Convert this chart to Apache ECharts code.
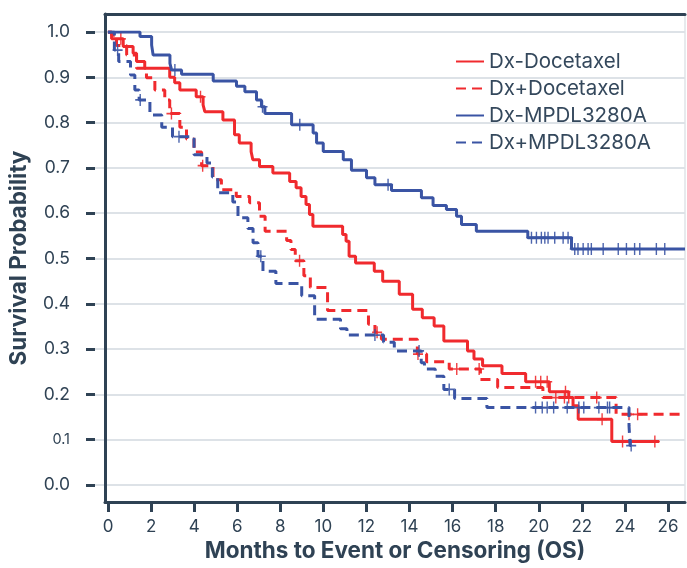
<!DOCTYPE html>
<html>
<head>
<meta charset="utf-8">
<script src="https://cdn.jsdelivr.net/npm/echarts@6/dist/echarts.min.js"></script>
<style>
html,body{margin:0;padding:0;background:#fff;}
#chart{width:687px;height:568px;}
</style>
</head>
<body>
<div id="chart"></div>
<script>
// ---- data (months, survival probability) ----
const seriesNames = ['Dx-Docetaxel', 'Dx+Docetaxel', 'Dx-MPDL3280A', 'Dx+MPDL3280A'];

const dxMinusDocT = [0, 0.17, 0.71, 1.17, 1.33, 1.71, 2.87, 3.1, 3.34, 4.1, 4.42, 4.5, 5.34, 5.88, 6.1, 6.65, 6.73, 7.04, 7.66, 8.44, 8.74, 8.97, 9.2, 9.36, 9.52, 10.9, 11.06, 11.2, 11.5, 12.37, 12.76, 13.53, 14.15, 14.6, 15.15, 15.6, 16.7, 17.0, 17.4, 18.3, 19.4, 20.5, 21.4, 21.6, 21.84, 23.4, 25.6];
const dxMinusDocS = [1.0, 0.985, 0.968, 0.953, 0.935, 0.92, 0.90, 0.888, 0.872, 0.857, 0.839, 0.824, 0.806, 0.773, 0.755, 0.736, 0.718, 0.703, 0.689, 0.670, 0.656, 0.637, 0.619, 0.597, 0.571, 0.553, 0.538, 0.505, 0.49, 0.472, 0.45, 0.421, 0.388, 0.369, 0.351, 0.318, 0.296, 0.278, 0.263, 0.246, 0.228, 0.206, 0.193, 0.175, 0.145, 0.096, 0.096];
const dxMinusDocCens = [0.6, 4.3, 19.86, 20.1, 20.4, 21.25, 22.95, 23.9, 25.4];

const dxPlusDocT = [0, 0.17, 0.4, 0.87, 1.33, 1.79, 2.18, 2.64, 2.87, 3.34, 3.65, 4.0, 4.35, 4.88, 5.27, 5.96, 6.58, 7.04, 7.3, 8.3, 8.5, 8.7, 9.1, 9.4, 10.2, 12.1, 12.4, 12.7, 14.37, 14.8, 15.85, 17.3, 18.1, 20.2, 23.6, 26.8];
const dxPlusDocS = [1.0, 0.993, 0.97, 0.949, 0.92, 0.899, 0.872, 0.85, 0.82, 0.79, 0.764, 0.735, 0.705, 0.674, 0.652, 0.637, 0.623, 0.593, 0.56, 0.54, 0.52, 0.495, 0.462, 0.436, 0.385, 0.355, 0.337, 0.322, 0.289, 0.272, 0.256, 0.233, 0.215, 0.193, 0.156, 0.156];
const dxPlusDocCens = [2.95, 4.4, 8.9, 12.5, 14.4, 16.2, 17.24, 20.8, 21.2, 21.4, 22.7, 24.2, 24.6];

const dxMinusMpdlT = [0, 1.49, 2.03, 2.1, 2.88, 2.96, 3.42, 4.89, 5.97, 6.36, 6.9, 7.13, 7.29, 8.53, 9.53, 9.69, 10.0, 10.93, 11.31, 12.01, 12.4, 13.17, 14.56, 15.1, 15.72, 16.19, 16.42, 17.11, 19.5, 21.53, 26.8];
const dxMinusMpdlS = [1.0, 0.99, 0.971, 0.949, 0.931, 0.916, 0.907, 0.892, 0.880, 0.868, 0.850, 0.835, 0.82, 0.795, 0.777, 0.755, 0.736, 0.718, 0.695, 0.678, 0.663, 0.65, 0.634, 0.617, 0.608, 0.593, 0.575, 0.56, 0.546, 0.521, 0.521];
const dxMinusMpdlCens = [3.11, 7.18, 8.91, 13.01, 19.67, 19.9, 20.13, 20.29, 20.44, 20.75, 21.14, 21.37, 21.68, 21.83, 22.07, 22.3, 22.45, 23.0, 23.7, 24.08, 24.46, 24.7, 25.47, 25.86];

const dxPlusMpdlT = [0, 0.3, 0.5, 1.05, 1.25, 1.45, 1.95, 2.5, 3.0, 4.0, 4.6, 4.85, 5.1, 5.8, 6.04, 6.5, 6.74, 6.97, 7.2, 7.8, 9.0, 9.6, 10.8, 11.1, 12.8, 13.3, 14.55, 14.7, 15.2, 15.6, 16.1, 17.6, 24.2, 24.25, 24.3];
const dxPlusMpdlS = [1.0, 0.96, 0.935, 0.905, 0.872, 0.85, 0.817, 0.79, 0.769, 0.729, 0.711, 0.68, 0.645, 0.625, 0.59, 0.566, 0.535, 0.505, 0.472, 0.445, 0.418, 0.366, 0.345, 0.331, 0.315, 0.296, 0.27, 0.256, 0.24, 0.211, 0.191, 0.171, 0.131, 0.087, 0.087];
const dxPlusMpdlCens = [0.45, 1.5, 3.3, 7.1, 12.4, 14.45, 15.85, 19.86, 20.17, 20.4, 20.7, 21.33, 21.87, 22.1, 22.8, 23.2, 23.3, 24.3];

const xTickValues = [0, 2, 4, 6, 8, 10, 12, 14, 16, 18, 20, 22, 24, 26];
const yTickValues = [0.0, 0.1, 0.2, 0.3, 0.4, 0.5, 0.6, 0.7, 0.8, 0.9, 1.0];

// ---- styling ----
const RED = '#f02a2e';
const BLUE = '#3a54a4';
const AXIS = '#2f4254';
const TXT = '#2f4254';
const FONT = 'Inter';
const DASH = [10, 6];

function zip(t, s) { return t.map((v, i) => [v, s[i]]); }
function survAt(t, T, S) {
  let v = S[0];
  for (let i = 0; i < T.length; i++) { if (T[i] <= t) v = S[i]; else break; }
  return v;
}
function censPts(c, T, S) { return c.map(t => [t, survAt(t, T, S)]); }

const groups = [
  { name: seriesNames[0], T: dxMinusDocT, S: dxMinusDocS, C: dxMinusDocCens, color: RED, dash: 'solid' },
  { name: seriesNames[1], T: dxPlusDocT, S: dxPlusDocS, C: dxPlusDocCens, color: RED, dash: DASH },
  { name: seriesNames[2], T: dxMinusMpdlT, S: dxMinusMpdlS, C: dxMinusMpdlCens, color: BLUE, dash: 'solid' },
  { name: seriesNames[3], T: dxPlusMpdlT, S: dxPlusMpdlS, C: dxPlusMpdlCens, color: BLUE, dash: DASH }
];

const plus = 'path://M4.3,0H5.7V10H4.3Z M0,4.3H10V5.7H0Z';

const series = [];
groups.forEach((g, i) => {
  series.push({
    name: g.name, type: 'line', step: 'end', symbol: 'none',
    xAxisIndex: 1, yAxisIndex: 1,
    data: zip(g.T, g.S),
    lineStyle: { color: g.color, width: 3, type: g.dash },
    itemStyle: { color: g.color },
    z: 3 + i, silent: true, animation: false
  });
  series.push({
    name: 'c' + i, type: 'scatter', symbol: plus, symbolSize: [10, 12],
    xAxisIndex: 1, yAxisIndex: 1,
    data: censPts(g.C, g.T, g.S),
    itemStyle: { color: g.color, opacity: 0.9 },
    z: 3 + i, silent: true, animation: false
  });
});

const chart = echarts.init(document.getElementById('chart'), null, { renderer: 'canvas' });
chart.setOption({
  animation: false,
  textStyle: { fontFamily: FONT, color: TXT },
  grid: [
    { left: 95, right: 2, top: 14, bottom: 65, show: true, borderColor: '#cfd5db', borderWidth: 1 },
    { left: 95, right: 2, top: 32, bottom: 83 },
    { left: 108, right: 19, top: 14, bottom: 65 }
  ],
  xAxis: [
    { gridIndex: 0, type: 'value', min: -0.6, max: 26.8, position: 'bottom',
      axisLine: { show: true, onZero: false, lineStyle: { color: AXIS, width: 3 } },
      axisTick: { show: false }, axisLabel: { show: false }, splitLine: { show: false },
      name: 'Months to Event or Censoring (OS)', nameLocation: 'middle', nameGap: 38,
      nameTextStyle: { fontFamily: FONT, fontWeight: 'bold', fontSize: 22.5, color: TXT } },
    { gridIndex: 1, type: 'value', min: -0.6, max: 26.8, show: false },
    { gridIndex: 2, type: 'value', min: 0, max: 26, interval: 2, position: 'bottom',
      axisLine: { show: false, onZero: false },
      axisTick: { show: true, inside: false, length: 9, lineStyle: { color: AXIS, width: 3 } },
      axisLabel: { show: true, margin: 15, fontSize: 17, color: TXT, fontFamily: FONT,
        formatter: v => (xTickValues.indexOf(v) >= 0 ? String(v) : '') },
      splitLine: { show: false } },
    { gridIndex: 0, type: 'value', min: -0.6, max: 26.8, position: 'top',
      axisLine: { show: true, onZero: false, lineStyle: { color: AXIS, width: 3 } },
      axisTick: { show: false }, axisLabel: { show: false }, splitLine: { show: false } }
  ],
  yAxis: [
    { gridIndex: 0, type: 'value', min: -0.04, max: 1.04, position: 'left',
      axisLine: { show: true, onZero: false, lineStyle: { color: AXIS, width: 3 } },
      axisTick: { show: false }, axisLabel: { show: false }, splitLine: { show: false },
      name: 'Survival Probability', nameLocation: 'middle', nameGap: 74, nameRotate: 90,
      nameTextStyle: { fontFamily: FONT, fontWeight: 'bold', fontSize: 22.5, color: TXT } },
    { gridIndex: 1, type: 'value', min: 0, max: 1, interval: 0.1, position: 'left',
      axisLine: { show: false, onZero: false },
      axisTick: { show: true, inside: false, length: 9, lineStyle: { color: AXIS, width: 3 } },
      axisLabel: { show: true, margin: 25, fontFamily: FONT, color: TXT,
        formatter: v => {
          const k = yTickValues.findIndex(y => Math.abs(y - v) < 1e-6);
          if (k < 0) return '';
          const s = yTickValues[k].toFixed(1);
          return k === 1 ? '{s|' + s + '}' : '{n|' + s + '}';
        },
        rich: { n: { fontSize: 17.5, color: TXT, fontFamily: FONT }, s: { fontSize: 14.5, color: TXT, fontFamily: FONT } } },
      splitLine: { show: true, lineStyle: { color: '#dde2e7', width: 2 } } },
    { gridIndex: 2, type: 'value', min: 0, max: 1, show: false }
  ],
  legend: {
    data: seriesNames, orient: 'vertical', left: 450, top: 46,
    itemWidth: 28, itemHeight: 14, itemGap: 6,
    itemStyle: { opacity: 0, borderWidth: 0 },
    textStyle: { fontFamily: FONT, fontSize: 20.5, color: '#34485c' },
    selectedMode: false
  },
  series: series
});
</script>
</body>
</html>
